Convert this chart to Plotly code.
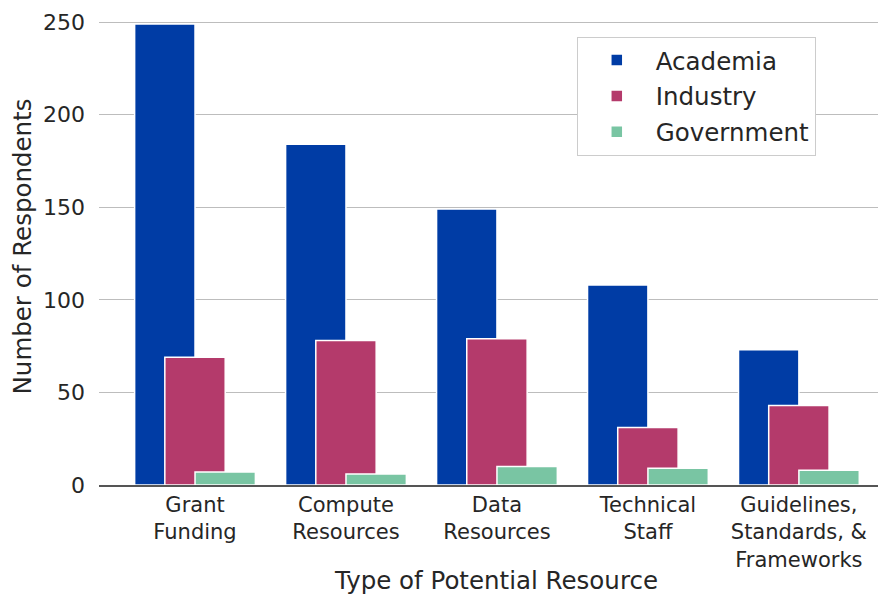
import plotly.graph_objects as go

categories = ["Grant<br>Funding", "Compute<br>Resources", "Data<br>Resources",
              "Technical<br>Staff", "Guidelines,<br>Standards, &<br>Frameworks"]
academia = [249, 184, 149, 108, 73]
industry = [69, 78, 79, 31, 43]
government = [7, 6, 10, 9, 8]

series = [
    ("Academia", academia, "#003ca5", -0.4),
    ("Industry", industry, "#b43a6b", -0.2),
    ("Government", government, "#79c5a3", 0.0),
]

x = list(range(len(categories)))
fig = go.Figure()
for name, vals, color, off in series:
    fig.add_trace(go.Bar(
        x=x, y=vals, name=name, width=0.4, offset=off, legendgroup=name,
        marker=dict(color=color, line=dict(color="white", width=1.5)),
    ))

font_family = "DejaVu Sans"
fig.update_layout(
    width=886, height=597,
    barmode="overlay",
    plot_bgcolor="white", paper_bgcolor="white",
    margin=dict(l=91, r=0, t=0, b=120),
    font=dict(family=font_family, color="#262626"),
    showlegend=True,
    legend=dict(
        x=0.601, y=0.94, xanchor="left", yanchor="top",
        font=dict(size=24.5, family=font_family, color="#262626"),
        bordercolor="#cccccc", borderwidth=1, bgcolor="white",
        itemwidth=68, tracegroupgap=1,
    ),
    xaxis=dict(
        tickvals=x, ticktext=categories, range=[-0.636, 4.63],
        showgrid=False, showline=True, linecolor="#555555", linewidth=1.5,
        tickfont=dict(size=21), ticks="", zeroline=False, automargin=False,
        title=dict(text="Type of Potential Resource", font=dict(size=24.5), standoff=1),
    ),
    yaxis=dict(
        range=[0, 257.6], tickvals=[0, 50, 100, 150, 200, 250],
        showgrid=True, gridcolor="#bdbdbd", gridwidth=1.3,
        showline=False, zeroline=False, ticks="", automargin=False,
        tickfont=dict(size=22), ticklabelstandoff=13,
        title=dict(text="Number of Respondents", font=dict(size=24.5), standoff=6),
    ),
)

fig.write_html("out.html")
